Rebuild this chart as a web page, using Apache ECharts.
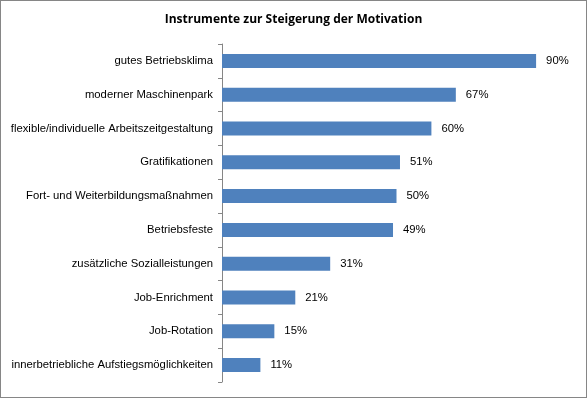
<!DOCTYPE html>
<html>
<head>
<meta charset="utf-8">
<script src="https://cdn.jsdelivr.net/npm/echarts@6/dist/echarts.min.js"></script>
<style>
  html, body { margin: 0; padding: 0; background: #fff; }
  #chart { width: 587px; height: 398px; box-sizing: border-box; border: 1px solid #868686; }
</style>
</head>
<body>
<div id="chart"></div>
<script>
// top to bottom order as shown
var categories = [
  'gutes Betriebsklima',
  'moderner Maschinenpark',
  'flexible/individuelle Arbeitszeitgestaltung',
  'Gratifikationen',
  'Fort- und Weiterbildungsmaßnahmen',
  'Betriebsfeste',
  'zusätzliche Sozialleistungen',
  'Job-Enrichment',
  'Job-Rotation',
  'innerbetriebliche Aufstiegsmöglichkeiten'
]
var values = [90, 67, 60, 51, 50, 49, 31, 21, 15, 11]

var chart = echarts.init(document.getElementById('chart'))

chart.setOption({
  animation: false,
  title: {
    text: 'Instrumente zur Steigerung der Motivation',
    left: 'center',
    top: 8,
    textStyle: {
      color: '#000',
      fontFamily: 'Open Sans',
      fontSize: 12,
      fontWeight: 'bold'
    }
  },
  grid: {
    left: 221,
    right: 15,
    top: 43,
    bottom: 15
  },
  xAxis: {
    type: 'value',
    min: 0,
    max: 100,
    show: false
  },
  yAxis: {
    type: 'category',
    inverse: true,
    data: categories,
    axisLine: {
      lineStyle: { color: '#868686', width: 1 }
    },
    axisTick: {
      show: true,
      length: 4,
      inside: false,
      lineStyle: { color: '#868686' }
    },
    axisLabel: {
      color: '#000',
      fontFamily: 'Liberation Sans',
      fontSize: 11.3,
      margin: 9
    },
    splitLine: { show: false }
  },
  series: [{
    type: 'bar',
    data: values,
    barWidth: 14,
    itemStyle: { color: '#4f81bd' },
    label: {
      show: true,
      position: 'right',
      distance: 10,
      formatter: '{c}%',
      color: '#000',
      fontFamily: 'Liberation Sans',
      fontSize: 11.3
    }
  }]
})
</script>
</body>
</html>
